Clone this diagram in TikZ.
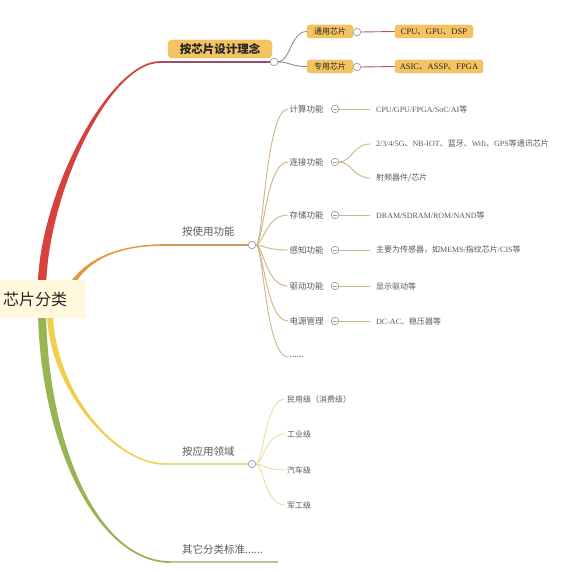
\documentclass[tikz,border=0pt]{standalone}
\usepackage{fontspec}
\setmainfont{Noto Sans CJK SC}
\newfontfamily\lat{Liberation Serif}
\definecolor{cred}{HTML}{D6423C}
\definecolor{credend}{HTML}{9E4E60}
\definecolor{corange}{HTML}{E39A3E}
\definecolor{corangeend}{HTML}{C99A5C}
\definecolor{cyellow}{HTML}{F1CE4C}
\definecolor{cyellowend}{HTML}{E4DA8E}
\definecolor{cgreen}{HTML}{97B652}
\definecolor{cgreenend}{HTML}{BAC592}
\definecolor{boxfill}{HTML}{F5C462}
\definecolor{boxline}{HTML}{EAB34E}
\definecolor{rootfill}{HTML}{FFF8DC}
\definecolor{tanline}{HTML}{CDB585}
\definecolor{appline}{HTML}{E8DFA0}
\definecolor{grayline}{HTML}{8E8E8E}
\definecolor{leafline}{HTML}{A85C5C}
\definecolor{circgray}{HTML}{9A9AA8}
\definecolor{txtgray}{HTML}{5A5A5A}
\begin{document}
\begin{tikzpicture}[x=1pt,y=-1pt,
  rootbox/.style={fill=rootfill, anchor=west, text width=80pt, align=left,
    inner xsep=3pt, inner ysep=0pt, minimum height=38pt,
    font=\fontsize{16}{16}\selectfont, text=black!85},
  dbox/.style={fill=boxfill, draw=boxline, line width=0.4pt, rounded corners=4pt,
    inner sep=0pt, text=black!85},
  cnode/.style={circle, draw=circgray, fill=white, line width=0.7pt,
    minimum size=7.5pt, inner sep=0pt},
  cminus/.style={cnode, path picture={\draw[circgray, line width=0.6pt]
    ([xshift=1.6pt]path picture bounding box.west) -- ([xshift=-1.6pt]path picture bounding box.east);}},
  mainlab/.style={anchor=west, inner sep=0pt, text=txtgray,
    font=\fontsize{10.5}{11}\selectfont},
  sublab/.style={anchor=west, inner xsep=1.5pt, inner ysep=0pt, text=txtgray,
    font=\fontsize{8.5}{9}\selectfont},
  leaflab/.style={anchor=west, inner xsep=6pt, inner ysep=0pt, text=txtgray,
    font=\fontsize{8}{8.5}\selectfont},
  applab/.style={anchor=west, inner xsep=2pt, inner ysep=0pt, text=txtgray,
    font=\fontsize{8}{9}\selectfont},
  tanc/.style={draw=tanline, line width=0.9pt},
  appc/.style={draw=appline, line width=0.9pt},
]
\useasboundingbox[fill=white] (0,0) rectangle (573,572);

% coordinates of main branches
\coordinate (r0) at (42,284);  \coordinate (r1) at (45,190);
\coordinate (r2) at (110,62);  \coordinate (rh) at (160,62);
\coordinate (o0) at (72,284);  \coordinate (o1) at (88,259);
\coordinate (o2) at (118,245); \coordinate (oh) at (165,245);
\coordinate (y0) at (50,314);  \coordinate (y1) at (52,390);
\coordinate (y2) at (115,464); \coordinate (yh) at (165,464);
\coordinate (g0) at (42,314);  \coordinate (g1) at (45,450);
\coordinate (g2) at (100,562); \coordinate (gh) at (170,562);
\coordinate (ge) at (278,562);

% end circles of the main branches
\node[cnode] (dc) at (274,62) {};
\node[cnode] (uc) at (252,245) {};
\node[cnode] (ac) at (252,464) {};

% tapered main branches
\fill[cgreen] ([xshift=-4pt]g0) .. controls ([xshift=-4pt]g1) and ([yshift=-0.9pt]g2) .. ([yshift=-0.9pt]gh)
  -- ([yshift=0.9pt]gh) .. controls ([yshift=0.9pt]g2) and ([xshift=4pt]g1) .. ([xshift=4pt]g0) -- cycle;
\draw[cgreenend, line width=1.8pt] (gh) -- (ge);
\fill[cyellow] ([xshift=-3pt]y0) .. controls ([xshift=-3pt]y1) and ([yshift=-0.8pt]y2) .. ([yshift=-0.8pt]yh)
  -- ([yshift=0.8pt]yh) .. controls ([yshift=0.8pt]y2) and ([xshift=3pt]y1) .. ([xshift=3pt]y0) -- cycle;
\draw[cyellowend, line width=1.6pt] (yh) -- (ac.west);
\fill[corange] ([xshift=-2.6pt]o0) .. controls ([xshift=-2.6pt]o1) and ([yshift=0.8pt]o2) .. ([yshift=0.8pt]oh)
  -- ([yshift=-0.8pt]oh) .. controls ([yshift=-0.8pt]o2) and ([xshift=2.6pt]o1) .. ([xshift=2.6pt]o0) -- cycle;
\draw[corangeend, line width=1.6pt] (oh) -- (uc.west);
\fill[cred] ([xshift=-4.2pt]r0) .. controls ([xshift=-4.2pt]r1) and ([yshift=0.9pt]r2) .. ([yshift=0.9pt]rh)
  -- ([yshift=-0.9pt]rh) .. controls ([yshift=-0.9pt]r2) and ([xshift=4.2pt]r1) .. ([xshift=4.2pt]r0) -- cycle;
\draw[credend, line width=1.8pt] (rh) -- (dc.west);

% root
\node[rootbox] (root) at (0,299) {芯片分类};

% design branch
\node[dbox, minimum width=104pt, minimum height=18pt,
  font=\bfseries\fontsize{11.5}{12}\selectfont] (d) at (220,49) {按芯片设计理念};
\node[dbox, minimum width=46pt, minimum height=13pt, rounded corners=3pt,
  font=\fontsize{8}{8}\selectfont] (d1) at (330,31.5) {通用芯片};
\node[dbox, minimum width=46pt, minimum height=13pt, rounded corners=3pt,
  font=\fontsize{8}{8}\selectfont] (d2) at (330,66.5) {专用芯片};
\node[cnode] (d1c) at (357,32) {};
\node[cnode] (d2c) at (357,67) {};
\node[dbox, minimum width=78pt, minimum height=13pt, rounded corners=3pt,
  font=\fontsize{8.5}{8.5}\selectfont] (d1l) at (434,31.5) {{\lat CPU}、{\lat GPU}、{\lat DSP}};
\node[dbox, minimum width=88pt, minimum height=13pt, rounded corners=3pt,
  font=\fontsize{8.5}{8.5}\selectfont] (d2l) at (439,66.5) {{\lat ASIC}、{\lat ASSP}、{\lat FPGA}};
\draw[grayline, line width=0.9pt] (dc.east) .. controls +(12,0) and +(-16,0) .. (d1.west);
\draw[grayline, line width=0.9pt] (dc.east) .. controls +(12,0) and +(-16,0) .. (d2.west);
\draw[leafline, line width=0.9pt] (d1c.east) -- (d1l.west);
\draw[leafline, line width=0.9pt] (d2c.east) -- (d2l.west);

% usage branch
\node[mainlab] (ul) at (182,232) {按使用功能};
\node[sublab] (u1) at (288,109) {计算功能};
\node[sublab] (u2) at (288,162) {连接功能};
\node[sublab] (u3) at (288,215) {存储功能};
\node[sublab] (u4) at (288,250) {感知功能};
\node[sublab] (u5) at (288,286) {驱动功能};
\node[sublab] (u6) at (288,321) {电源管理};
\node[sublab] (u7) at (288,357) {......};
\foreach \n in {u1,u2,u3,u4,u5,u6,u7}
  \draw[tanc] (uc.east) .. controls +(7,0) and +(-22,0) .. (\n.west);
\node[cminus] (u1c) at (335,109) {};
\node[cminus] (u2c) at (335,162) {};
\node[cminus] (u3c) at (335,215) {};
\node[cminus] (u4c) at (335,250) {};
\node[cminus] (u5c) at (335,286) {};
\node[cminus] (u6c) at (335,321) {};
\node[leaflab] (u1l) at (370,109) {{\lat CPU/GPU/FPGA/SoC/AI}等};
\node[leaflab] (u2a) at (370,144) {{\lat 2/3/4/5G}、{\lat NB-IOT}、蓝牙、{\lat Wifi}、{\lat GPS}等通讯芯片};
\node[leaflab] (u2b) at (370,178) {射频器件/芯片};
\node[leaflab] (u3l) at (370,215) {{\lat DRAM/SDRAM/ROM/NAND}等};
\node[leaflab] (u4l) at (370,250) {主要为传感器，如{\lat MEMS/}指纹芯片{\lat /CIS}等};
\node[leaflab] (u5l) at (370,286) {显示驱动等};
\node[leaflab] (u6l) at (370,321) {{\lat DC-AC}、稳压器等};
\draw[tanc] (u1c.east) -- (u1l.west);
\draw[tanc] (u2c.east) .. controls +(12,0) and +(-16,0) .. (u2a.west);
\draw[tanc] (u2c.east) .. controls +(12,0) and +(-16,0) .. (u2b.west);
\draw[tanc] (u3c.east) -- (u3l.west);
\draw[tanc] (u4c.east) -- (u4l.west);
\draw[tanc] (u5c.east) -- (u5l.west);
\draw[tanc] (u6c.east) -- (u6l.west);

% application branch
\node[mainlab] (al) at (182,452) {按应用领域};
\node[applab] (a1) at (285,399) {民用级（消费级）};
\node[applab] (a2) at (285,434) {工业级};
\node[applab] (a3) at (285,470) {汽车级};
\node[applab] (a4) at (285,505) {军工级};
\foreach \n in {a1,a2,a3,a4}
  \draw[appc] (ac.east) .. controls +(7,0) and +(-20,0) .. (\n.west);

% other
\node[mainlab] (ol) at (182,549) {其它分类标准......};
\end{tikzpicture}
\end{document}
